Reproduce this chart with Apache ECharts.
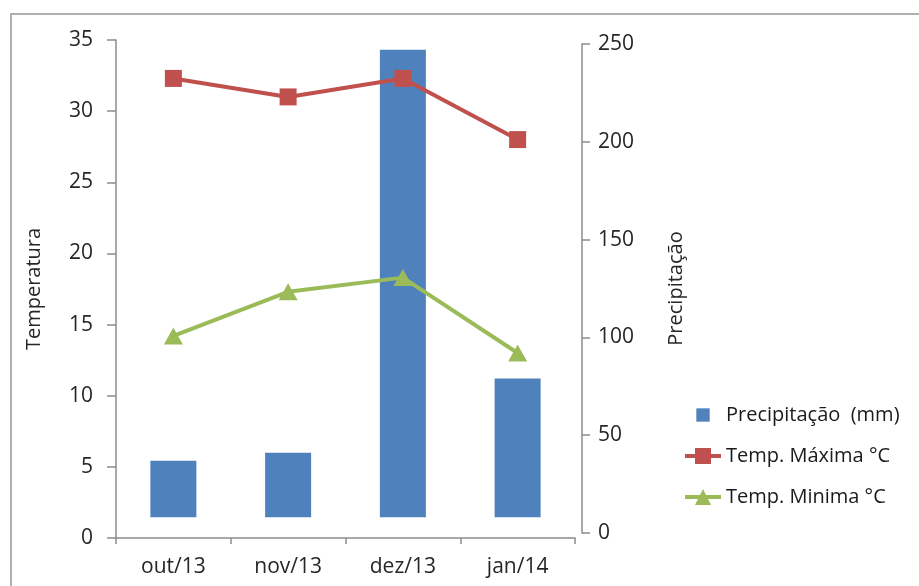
<!DOCTYPE html>
<html>
<head>
<meta charset="utf-8">
<script src="https://cdn.jsdelivr.net/npm/echarts@6/dist/echarts.min.js"></script>
<style>
  html, body { margin: 0; padding: 0; background: #fff; }
  #frame { position: absolute; left: 10px; top: 13px; width: 1000px; height: 1000px;
           border-top: 2px solid #b0b0b0; border-left: 2px solid #b0b0b0; }
  #chart { position: absolute; left: 0; top: 0; width: 919px; height: 586px; }
</style>
</head>
<body>
<div id="frame"></div>
<div id="chart"></div>
<script>
// ---- data ----
const categories   = ['out/13', 'nov/13', 'dez/13', 'jan/14'];
const precipitacao = [37, 41, 247, 79];          // mm (right axis)
const tempMax      = [32.3, 31.0, 32.3, 28.0];   // °C (left axis)
const tempMin      = [14.2, 17.3, 18.3, 13.0];   // °C (left axis)
const tempTicks    = [0, 5, 10, 15, 20, 25, 30, 35];
const precipTicks  = [0, 50, 100, 150, 200, 250];
const barFloor     = 8;  // bars in the reference float above the axis floor

const FONT = 'Open Sans';
const TXT = '#262626';
const AX = '#8c8c8c';

const chart = echarts.init(document.getElementById('chart'), null, { renderer: 'canvas' });
chart.setOption({
  backgroundColor: 'transparent',
  animation: false,
  textStyle: { fontFamily: FONT },
  grid: [
    { left: 116, top: 40, width: 459, height: 498 },
    { left: 116, top: 44, width: 459, height: 489 }
  ],
  legend: {
    orient: 'vertical',
    left: 678,
    top: 400,
    itemWidth: 36,
    itemHeight: 20,
    itemGap: 21,
    lineStyle: { width: 4 },
    textStyle: { fontFamily: FONT, fontSize: 20, color: '#1a1a1a' },
    data: [
      { name: 'Precipitação  (mm)', icon: 'path://M-3,-3M0,0L12,0L12,12L0,12ZM15,15' },
      { name: 'Temp. Máxima °C' },
      { name: 'Temp. Minima °C' }
    ]
  },
  xAxis: [
    {
      type: 'category', gridIndex: 0, data: categories,
      axisLine: { lineStyle: { color: AX, width: 1.5 } },
      axisTick: { show: true, alignWithLabel: false, inside: false, length: 6, lineStyle: { color: AX, width: 1.5 } },
      axisLabel: { color: TXT, fontSize: 21, fontFamily: FONT, margin: 19 }
    },
    {
      type: 'category', gridIndex: 1, data: categories, show: false
    }
  ],
  yAxis: [
    {
      type: 'value', gridIndex: 0, position: 'left',
      min: tempTicks[0], max: tempTicks[tempTicks.length - 1], interval: tempTicks[1] - tempTicks[0],
      name: 'Temperatura', nameLocation: 'middle', nameGap: 72, nameRotate: 90,
      nameTextStyle: { color: TXT, fontSize: 20, fontFamily: FONT },
      splitLine: { show: false },
      axisLine: { show: true, lineStyle: { color: AX, width: 1.5 } },
      axisTick: { show: true, length: 9, lineStyle: { color: AX, width: 1.5 } },
      axisLabel: { color: TXT, fontSize: 21, fontFamily: FONT, margin: 23 }
    },
    {
      type: 'value', gridIndex: 1, position: 'right', offset: 7,
      min: precipTicks[0], max: precipTicks[precipTicks.length - 1], interval: precipTicks[1] - precipTicks[0],
      name: 'Precipitação', nameLocation: 'middle', nameGap: 84, nameRotate: 90,
      nameTextStyle: { color: TXT, fontSize: 20, fontFamily: FONT },
      splitLine: { show: false },
      axisLine: { show: true, lineStyle: { color: AX, width: 1.5 } },
      axisTick: { show: true, length: 8, lineStyle: { color: AX, width: 1.5 } },
      axisLabel: { color: TXT, fontSize: 21, fontFamily: FONT, margin: 16 }
    }
  ],
  series: [
    {
      name: 'base', type: 'bar', xAxisIndex: 1, yAxisIndex: 1, stack: 'p', silent: true,
      barWidth: 46,
      itemStyle: { color: 'rgba(0,0,0,0)' },
      data: categories.map(() => barFloor)
    },
    {
      name: 'Precipitação  (mm)', type: 'bar', xAxisIndex: 1, yAxisIndex: 1, stack: 'p',
      barWidth: 46,
      itemStyle: { color: '#4F81BD' },
      data: precipitacao.map(v => v - barFloor)
    },
    {
      name: 'Temp. Máxima °C', type: 'line', xAxisIndex: 0, yAxisIndex: 0,
      symbol: 'rect', symbolSize: 17,
      lineStyle: { color: '#C0504D', width: 4 },
      itemStyle: { color: '#C0504D' },
      data: tempMax
    },
    {
      name: 'Temp. Minima °C', type: 'line', xAxisIndex: 0, yAxisIndex: 0,
      symbol: 'triangle', symbolSize: [19, 17],
      lineStyle: { color: '#9BBB59', width: 4 },
      itemStyle: { color: '#9BBB59' },
      data: tempMin
    }
  ]
});
</script>
</body>
</html>
